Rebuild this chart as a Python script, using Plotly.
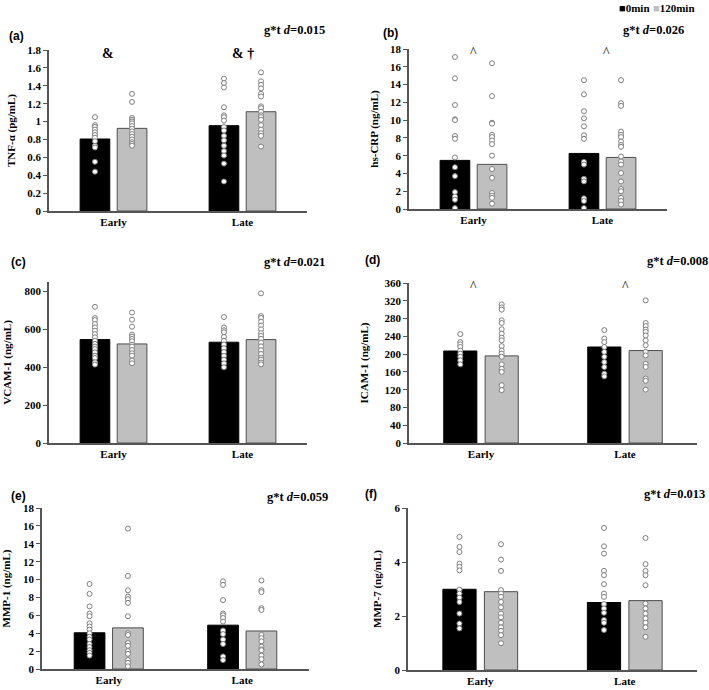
import plotly.graph_objects as go

W, H = 709, 690

categories = ["Early", "Late"]
series_names = ["0min", "120min"]

# ---- Panel (a) TNF-alpha ----
a_bar_0 = [0.805, 0.954]
a_bar_120 = [0.924, 1.11]
a_early_0 = [1.05, 0.96, 0.94, 0.91, 0.88, 0.85, 0.82, 0.78, 0.73, 0.71, 0.55, 0.44]
a_early_120 = [1.31, 1.22, 1.04, 1.02, 1.00, 0.98, 0.95, 0.92, 0.89, 0.86, 0.83, 0.80, 0.77, 0.75, 0.73]
a_late_0 = [1.48, 1.43, 1.38, 1.16, 1.07, 1.05, 1.01, 0.94, 0.90, 0.84, 0.79, 0.73, 0.67, 0.62, 0.53, 0.33]
a_late_120 = [1.55, 1.45, 1.41, 1.37, 1.31, 1.28, 1.17, 1.15, 1.11, 1.07, 1.05, 1.02, 0.96, 0.91, 0.87, 0.84, 0.72]

# ---- Panel (b) hs-CRP ----
b_bar_0 = [5.47, 6.25]
b_bar_120 = [5.02, 5.8]
b_early_0 = [17.1, 14.7, 11.7, 10.1, 10.0, 8.2, 7.9, 5.8, 4.7, 3.7, 1.9, 1.4, 1.05, 0.1]
b_early_120 = [16.4, 12.7, 9.7, 9.6, 8.35, 8.1, 7.7, 7.3, 6.0, 4.5, 3.5, 1.8, 1.5, 1.25, 0.6]
b_late_0 = [14.5, 12.9, 11.0, 10.2, 9.3, 8.3, 7.9, 5.3, 5.0, 3.4, 3.1, 1.2, 0.9, 0.1]
b_late_120 = [14.5, 11.9, 11.6, 8.7, 8.35, 8.1, 7.6, 7.2, 7.0, 5.9, 5.35, 5.0, 4.05, 3.1, 2.25, 2.0, 1.25, 0.9, 0.5]

# ---- Panel (c) VCAM-1 ----
c_bar_0 = [546, 532]
c_bar_120 = [523, 546]
c_early_0 = [719, 660, 649, 628, 610, 593, 575, 558, 540, 523, 509, 496, 479, 461, 449, 426, 414]
c_early_120 = [689, 651, 614, 572, 561, 549, 537, 519, 509, 491, 474, 461, 435, 421]
c_late_0 = [665, 610, 595, 585, 560, 540, 520, 500, 480, 460, 440, 420, 400]
c_late_120 = [790, 670, 660, 640, 620, 600, 580, 565, 550, 530, 510, 490, 470, 450, 440, 425, 415]

# ---- Panel (d) ICAM-1 ----
d_bar_0 = [207, 216]
d_bar_120 = [196, 208]
d_early_0 = [245, 227, 222, 216, 208, 201, 194, 186, 177]
d_early_120 = [312, 305, 300, 276, 270, 256, 246, 237, 231, 218, 208, 201, 194, 177, 167, 160, 130, 119]
d_late_0 = [254, 235, 227, 216, 205, 194, 182, 171, 156, 150]
d_late_120 = [321, 270, 263, 255, 250, 242, 231, 220, 205, 197, 178, 171, 145, 140, 120]

# ---- Panel (e) MMP-1 ----
e_bar_0 = [4.05, 4.9]
e_bar_120 = [4.6, 4.25]
e_early_0 = [9.5, 8.4, 7.0, 6.2, 5.9, 5.1, 4.75, 4.4, 4.0, 3.6, 3.3, 2.8, 2.45, 2.1, 1.8, 1.5]
e_early_120 = [15.7, 10.4, 8.8, 8.1, 7.8, 7.4, 5.9, 4.0, 3.8, 2.9, 2.6, 2.0, 1.7, 1.0, 0.7, 0.3]
e_late_0 = [9.8, 9.4, 7.7, 6.2, 6.0, 5.7, 5.3, 4.3, 3.9, 3.3, 2.8, 1.4, 1.0]
e_late_120 = [9.9, 8.8, 8.6, 6.8, 6.6, 3.8, 3.45, 3.1, 2.5, 2.2, 2.1, 1.5, 1.1, 0.5]

# ---- Panel (f) MMP-7 ----
f_bar_0 = [2.99, 2.5]
f_bar_120 = [2.90, 2.57]
f_early_0 = [4.93, 4.56, 4.37, 3.94, 3.82, 3.69, 2.98, 2.83, 2.68, 2.52, 2.09, 1.72, 1.54]
f_early_120 = [4.66, 4.09, 3.67, 2.96, 2.83, 2.71, 2.52, 2.32, 2.09, 1.95, 1.75, 1.58, 1.45, 1.29, 0.99]
f_late_0 = [5.26, 4.58, 4.31, 3.67, 3.51, 3.18, 2.83, 2.71, 2.44, 2.28, 2.12, 1.85, 1.75, 1.48]
f_late_120 = [4.89, 3.92, 3.67, 3.51, 3.14, 2.46, 2.28, 2.09, 1.91, 1.75, 1.58, 1.23]

panel_labels = ["(a)", "(b)", "(c)", "(d)", "(e)", "(f)"]
y_titles = ["TNF-α (pg/mL)", "hs-CRP (ng/mL)", "VCAM-1 (ng/mL)",
            "ICAM-1 (ng/mL)", "MMP-1 (ng/mL)", "MMP-7 (ng/mL)"]
interaction_texts = ["0.015", "0.026", "0.021", "0.008", "0.059", "0.013"]
y_ranges = [[0, 1.8], [0, 18], [0, 850], [0, 360], [0, 18], [0, 6]]
y_dticks = [0.2, 2, 200, 40, 2, 2]

panels = [
    (a_bar_0, a_bar_120, [a_early_0, a_late_0], [a_early_120, a_late_120]),
    (b_bar_0, b_bar_120, [b_early_0, b_late_0], [b_early_120, b_late_120]),
    (c_bar_0, c_bar_120, [c_early_0, c_late_0], [c_early_120, c_late_120]),
    (d_bar_0, d_bar_120, [d_early_0, d_late_0], [d_early_120, d_late_120]),
    (e_bar_0, e_bar_120, [e_early_0, e_late_0], [e_early_120, e_late_120]),
    (f_bar_0, f_bar_120, [f_early_0, f_late_0], [f_early_120, f_late_120]),
]

# significance symbols: (panel index, category index, dx, y, text)
sig_marks = [
    (0, 0, -0.04, 1.76, "&"), (0, 1, 0.0, 1.76, "& †"),
    (1, 0, 0.0, 17.6, "^"), (1, 1, 0.03, 17.6, "^"),
    (3, 0, -0.05, 352, "^"), (3, 1, 0.0, 352, "^"),
]

# ---- layout geometry (pixels) ----
# (x_left, x_right, y_top, y_bottom)
boxes = [
    (49, 307, 50, 211),
    (409, 667, 49, 209),
    (49, 307, 282, 443),
    (409, 697, 283, 443),
    (42, 309, 508, 669),
    (408, 697, 508, 670),
]
label_pos = [(7, 36), (381, 33), (9, 262), (363, 260), (9, 496), (363, 494)]
inter_pos = [(262, 30), (621, 30), (262, 262), (645, 261), (265, 497), (642, 494)]
standoffs = [9, 9, 11, 14, 12, 11]

SERIF = "Liberation Serif"
SANS = "Liberation Sans"
AXC = "#555555"
BLACK = "#000000"
GREY = "#bfbfbf"

BARGAP = 0.425
GROUPGAP = 0.2
shift = (1 - BARGAP) / 4.0  # centre of each bar within its category

fig = go.Figure()
layout = dict(
    width=W, height=H,
    margin=dict(l=0, r=0, t=0, b=0, autoexpand=False),
    paper_bgcolor="white", plot_bgcolor="white",
    barmode="group", bargap=BARGAP, bargroupgap=GROUPGAP,
    showlegend=False,
    annotations=[],
)

cat_idx = list(range(len(categories)))

for p, (bar0, bar120, pts0, pts120) in enumerate(panels):
    n = "" if p == 0 else str(p + 1)
    xa, ya = "x" + n, "y" + n
    xl, xr, yt, yb = boxes[p]
    layout["xaxis" + n] = dict(
        domain=[xl / W, xr / W], range=[-0.5, 1.5], anchor=ya,
        tickvals=cat_idx, ticktext=categories, ticks="", ticklen=0,
        showline=True, linecolor=AXC, linewidth=1.5, showgrid=False,
        zeroline=False, fixedrange=True, automargin=False,
        tickfont=dict(family=SERIF, size=11, color="#000", weight="bold"),
    )
    layout["yaxis" + n] = dict(
        domain=[1 - yb / H, 1 - yt / H], range=y_ranges[p], anchor=xa,
        dtick=y_dticks[p], tick0=0, ticks="outside", ticklen=4, tickcolor=AXC,
        tickwidth=1, showline=True, linecolor=AXC, linewidth=1.5,
        showgrid=False, zeroline=False, automargin=False,
        tickfont=dict(family=SERIF, size=11, color="#000", weight="bold"),
        title=dict(text=y_titles[p], standoff=standoffs[p],
                   font=dict(family=SERIF, size=11, color="#000", weight="bold")),
    )
    fig.add_trace(go.Bar(x=cat_idx, y=bar0, name=series_names[0], xaxis=xa, yaxis=ya,
                         marker=dict(color=BLACK, line=dict(color=BLACK, width=1))))
    fig.add_trace(go.Bar(x=cat_idx, y=bar120, name=series_names[1], xaxis=xa, yaxis=ya,
                         marker=dict(color=GREY, line=dict(color="#4d4d4d", width=1))))
    for ci in cat_idx:
        for vals, s in ((pts0[ci], -shift), (pts120[ci], shift)):
            fig.add_trace(go.Scatter(
                x=[ci + s] * len(vals), y=vals, mode="markers", xaxis=xa, yaxis=ya,
                showlegend=False, hoverinfo="y",
                marker=dict(symbol="circle", size=5, color="white",
                            line=dict(color="#7f7f7f", width=1)),
            ))
    lx, ly = label_pos[p]
    layout["annotations"].append(dict(
        x=lx / W, y=1 - ly / H, xref="paper", yref="paper", xanchor="left",
        yanchor="middle", text=panel_labels[p], showarrow=False,
        font=dict(family=SANS, size=12, color="#000", weight="bold")))
    ix, iy = inter_pos[p]
    layout["annotations"].append(dict(
        x=ix / W, y=1 - iy / H, xref="paper", yref="paper", xanchor="left",
        yanchor="middle", text="g*t <i>d</i>=" + interaction_texts[p], showarrow=False,
        font=dict(family=SERIF, size=12.5, color="#000", weight="bold")))

for (p, ci, dx, yv, txt) in sig_marks:
    n = "" if p == 0 else str(p + 1)
    layout["annotations"].append(dict(
        x=ci + dx, y=yv, xref="x" + n, yref="y" + n, text=txt, showarrow=False,
        yanchor="middle",
        font=dict(family=SERIF, size=14, color="#000",
                  weight="bold" if "&" in txt else "normal")))

# legend key (top right)
legend_items = [(617, "#000000", series_names[0]), (651, GREY, series_names[1])]
for lx, col, name in legend_items:
    layout["annotations"].append(dict(
        x=lx / W, y=1 - 8 / H, xref="paper", yref="paper", xanchor="left",
        yanchor="middle", showarrow=False,
        text="<span style='color:%s'>■</span>%s" % (col, name),
        font=dict(family=SERIF, size=11, color="#000", weight="bold")))

fig.update_layout(**layout)
fig.write_html("out.html", config={"displayModeBar": False},
               post_script="document.body.style.margin='0';document.body.style.overflow='hidden';")
